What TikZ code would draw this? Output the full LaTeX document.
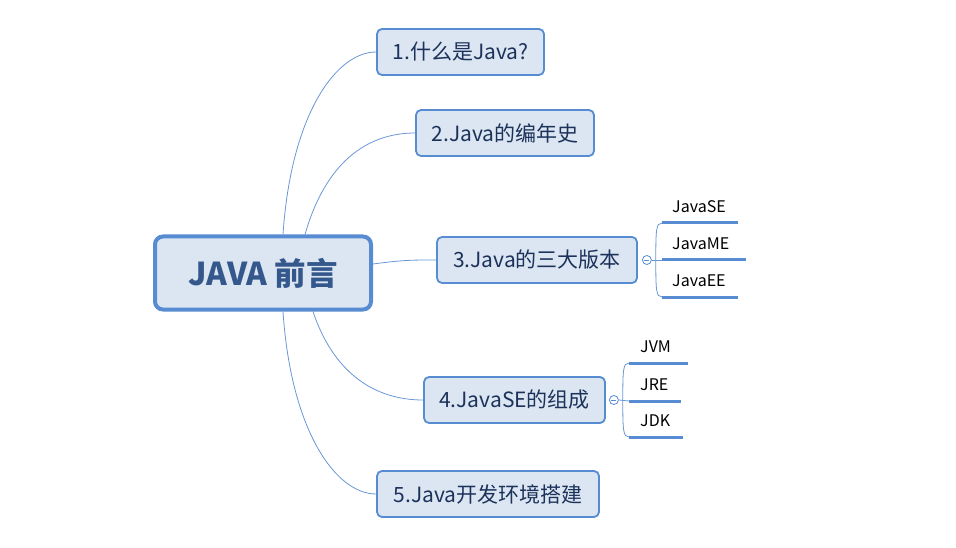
\documentclass[tikz,border=0pt]{standalone}
\usepackage{fontspec}
\setmainfont{Noto Sans CJK SC}
\usetikzlibrary{positioning}
\definecolor{edge}{RGB}{88,140,210}
\definecolor{paper}{RGB}{220,230,242}
\definecolor{ink}{RGB}{28,50,90}
\definecolor{title}{RGB}{52,88,140}
\tikzset{
  root/.style={draw=edge,fill=paper,line width=4pt,rounded corners=8pt,minimum width=216pt,minimum height=73pt,text=title,font=\fontsize{31.5}{36}\selectfont\bfseries},
  topic/.style={draw=edge,fill=paper,line width=1.8pt,rounded corners=5pt,minimum height=46pt,text=ink,font=\fontsize{21}{25}\selectfont},
  leaf/.style={anchor=south west,minimum height=32pt,inner xsep=10pt,inner ysep=0pt,text width=#1,align=left,font=\fontsize{16}{19}\selectfont},
  branch/.style={edge!90,line width=0.8pt},
  underline/.style={edge,line width=3pt},
  fold/.style={circle,draw=edge,fill=white,inner sep=0pt,minimum size=9pt,line width=0.8pt}
}

\begin{document}
\begin{tikzpicture}[x=1pt,y=-1pt]
  \useasboundingbox (0,0) rectangle (956,548);
  % central topic
  \node[root] (root) at (263,273) {JAVA 前言};
  % main topics
  \node[topic,minimum width=167pt] (t1) at (460.5,52) {1.什么是Java?};
  \node[topic,minimum width=178pt] (t2) at (505,133) {2.Java的编年史};
  \node[topic,minimum width=200pt] (t3) at (537,260) {3.Java的三大版本};
  \node[topic,minimum width=181pt] (t4) at (514.5,400) {4.JavaSE的组成};
  \node[topic,minimum width=222pt] (t5) at (488,494) {5.Java开发环境搭建};
  % links from the centre
  \draw[branch] ([xshift=20pt]root.north) .. controls +(8,-120) and +(-40,0) .. (t1.west);
  \draw[branch] ([xshift=42pt]root.north) .. controls +(20,-70) and +(-50,0) .. (t2.west);
  \draw[branch] ([yshift=9pt]root.east) .. controls +(30,-4) and +(-25,0) .. (t3.west);
  \draw[branch] ([xshift=50pt]root.south) .. controls +(20,60) and +(-50,0) .. (t4.west);
  \draw[branch] ([xshift=20pt]root.south) .. controls +(8,120) and +(-40,0) .. (t5.west);
  % editions under topic 3
  \node[fold] (f3) at ([xshift=9pt]t3.east) {};
  \draw[edge,line width=0.8pt] ([xshift=-2.5pt]f3.center) -- ([xshift=2.5pt]f3.center);
  \node[leaf=56pt] (se) at (662,223) {JavaSE};
  \node[leaf=64pt] (me) at (662,260) {JavaME};
  \node[leaf=56pt] (ee) at (662,297) {JavaEE};
  \draw[branch] (f3.east) -- (me.south west);
  \draw[branch] ([xshift=4pt]f3.east) .. controls +(0,-30) and +(-6,0) .. (se.south west);
  \draw[branch] ([xshift=4pt]f3.east) .. controls +(0,30) and +(-6,0) .. (ee.south west);
  \foreach \n in {se,me,ee}
    \draw[underline] (\n.south west) -- (\n.south east);
  % parts under topic 4
  \node[fold] (f4) at ([xshift=8pt]t4.east) {};
  \draw[edge,line width=0.8pt] ([xshift=-2.5pt]f4.center) -- ([xshift=2.5pt]f4.center);
  \node[leaf=37pt,inner xsep=11pt] (jvm) at (629,363) {JVM};
  \node[leaf=30pt,inner xsep=11pt] (jre) at (629,401) {JRE};
  \node[leaf=32pt,inner xsep=11pt] (jdk) at (629,437) {JDK};
  \draw[branch] (f4.east) -- (jre.south west);
  \draw[branch] ([xshift=4pt]f4.east) .. controls +(0,-30) and +(-6,0) .. (jvm.south west);
  \draw[branch] ([xshift=4pt]f4.east) .. controls +(0,30) and +(-6,0) .. (jdk.south west);
  \foreach \n in {jvm,jre,jdk}
    \draw[underline] (\n.south west) -- (\n.south east);
\end{tikzpicture}
\end{document}
